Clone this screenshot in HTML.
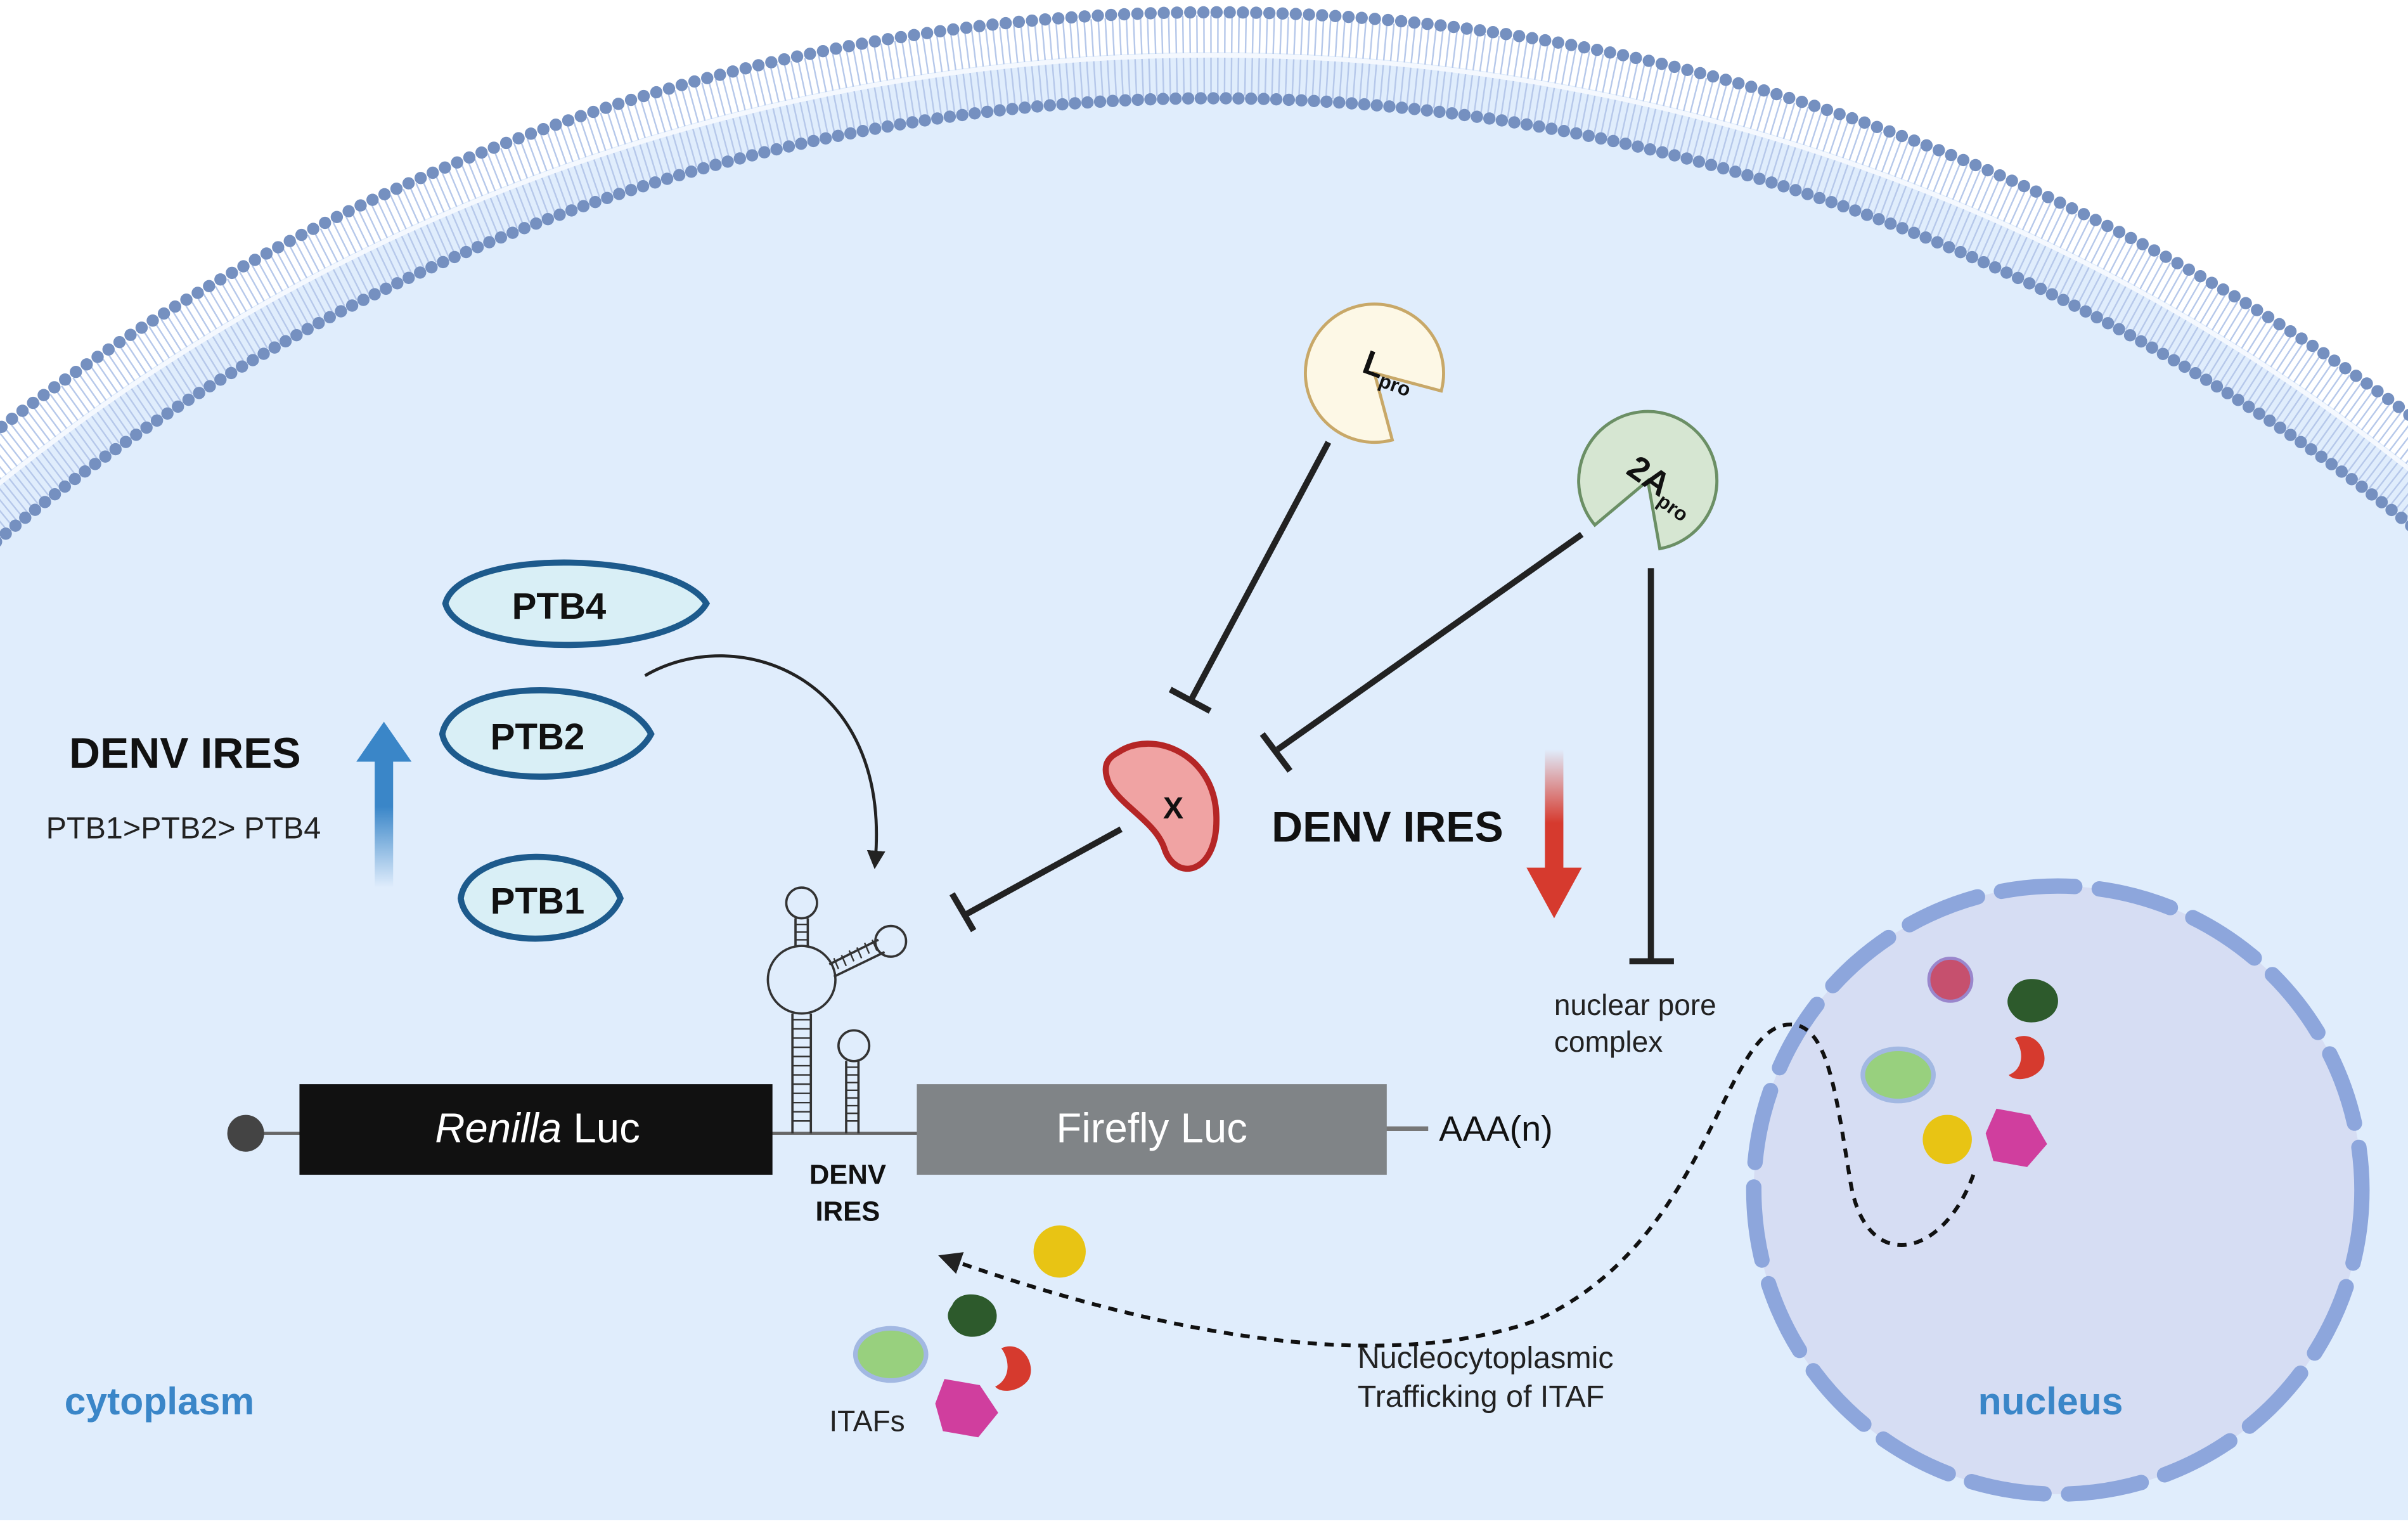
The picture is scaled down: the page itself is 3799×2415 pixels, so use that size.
<!DOCTYPE html>
<html><head><meta charset="utf-8"><style>
html,body{margin:0;padding:0;background:#fff;width:3799px;height:2415px;overflow:hidden;}
svg{display:block;}
text{font-family:"Liberation Sans",sans-serif;}
</style></head><body>
<svg width="3799" height="2415" viewBox="0 0 1568 997" preserveAspectRatio="none" xmlns="http://www.w3.org/2000/svg">
<defs>
<linearGradient id="bu" x1="0" y1="1" x2="0" y2="0"><stop offset="0" stop-color="#3a86c8" stop-opacity="0"/><stop offset="0.6" stop-color="#3a86c8"/></linearGradient>
<linearGradient id="rd" x1="0" y1="0" x2="0" y2="1"><stop offset="0" stop-color="#d63a2e" stop-opacity="0"/><stop offset="0.6" stop-color="#d63a2e"/></linearGradient>
<marker id="ah" viewBox="0 0 10 10" refX="5" refY="5" markerWidth="6" markerHeight="6" orient="auto"><path d="M0,0 L10,5 L0,10 z" fill="#222"/></marker>
</defs>
<rect width="1568" height="997" fill="#fff"/>
<rect x="5" y="340" width="1558" height="650" fill="#e0edfc"/>
<circle cx="790" cy="1296" r="1262" fill="#e0edfc"/>
<circle cx="790" cy="1296" r="1260" fill="none" stroke="#b6c8ea" stroke-width="52" stroke-dasharray="1 3.5"/>
<circle cx="790" cy="1296" r="1260" fill="none" stroke="#f4f8fe" stroke-width="3"/>
<circle cx="790" cy="1296" r="1288" fill="none" stroke="#7590c0" stroke-width="8" stroke-linecap="round" stroke-dasharray="0 8.6"/>
<circle cx="790" cy="1296" r="1232" fill="none" stroke="#7590c0" stroke-width="8" stroke-linecap="round" stroke-dasharray="0 8.2"/>
<rect x="0" y="990" width="1568" height="7" fill="#fff"/>

<path d="M290,393 C300,355 440,360 460,393 C440,428 300,430 290,393 z" fill="#d9eff6" stroke="#1d5a8c" stroke-width="4"/>
<text x="364" y="403" font-size="24" font-weight="bold" text-anchor="middle" fill="#111">PTB4</text>
<path d="M288,478 C295,440 405,440 424,478 C405,515 295,515 288,478 z" fill="#d9eff6" stroke="#1d5a8c" stroke-width="4"/>
<text x="350" y="488" font-size="24" font-weight="bold" text-anchor="middle" fill="#111">PTB2</text>
<path d="M300,585 C305,550 390,548 404,585 C390,620 305,620 300,585 z" fill="#d9eff6" stroke="#1d5a8c" stroke-width="4"/>
<text x="350" y="595" font-size="24" font-weight="bold" text-anchor="middle" fill="#111">PTB1</text>

<text x="45" y="500" font-size="28" font-weight="bold" fill="#111">DENV IRES</text>
<text x="30" y="546" font-size="20" fill="#222">PTB1&gt;PTB2&gt; PTB4</text>
<rect x="244" y="490" width="12" height="88" fill="url(#bu)"/>
<path d="M232,496 L250,470 L268,496 z" fill="#3a86c8"/>

<path d="M420,440 C480,405 580,440 570,560" fill="none" stroke="#222" stroke-width="2" marker-end="url(#ah)"/>

<path d="M895,243 L938.5,254.6 A45,45 0 1 0 906.6,286.5 z" fill="#fdf8e6" stroke="#c8a868" stroke-width="2"/>
<text x="886" y="242" font-size="22" font-weight="bold" fill="#111" transform="rotate(20 886 242)">L<tspan font-size="13" dy="5">pro</tspan></text>
<path d="M1073,313 L1080.8,357.3 A45,45 0 1 0 1038.5,341.9 z" fill="#d6e6d2" stroke="#6b8f65" stroke-width="2"/>
<text x="1058" y="308" font-size="22" font-weight="bold" fill="#111" transform="rotate(35 1058 308)">2A<tspan font-size="13" dy="5">pro</tspan></text>

<g stroke="#222" stroke-width="4" fill="none">
<line x1="865" y1="288" x2="776" y2="455"/><line x1="762" y1="449" x2="788" y2="463"/>
<line x1="1030" y1="348" x2="832" y2="488"/><line x1="822" y1="478" x2="840" y2="502"/>
<line x1="1075" y1="370" x2="1075" y2="625"/><line x1="1061" y1="626" x2="1090" y2="626"/>
<line x1="730" y1="540" x2="628" y2="596"/><line x1="620" y1="582" x2="634" y2="606"/>
</g>
<path d="M728,490 C750,475 790,490 792,530 C794,570 765,575 758,552 C752,535 730,525 722,510 C718,500 720,494 728,490 z" fill="#f0a3a3" stroke="#b52626" stroke-width="4"/>
<text x="764" y="533" font-size="20" font-weight="bold" text-anchor="middle" fill="#111">X</text>

<text x="828" y="548" font-size="28" font-weight="bold" fill="#111">DENV IRES</text>
<rect x="1006" y="488" width="12" height="80" fill="url(#rd)"/>
<path d="M994,565 L1012,598 L1030,565 z" fill="#d63a2e"/>

<text x="1012" y="661" font-size="19" fill="#222">nuclear pore</text>
<text x="1012" y="685" font-size="19" fill="#222">complex</text>

<circle cx="1340" cy="775" r="198" fill="#d6ddf3" stroke="#8da6dc" stroke-width="10" stroke-linecap="round" stroke-dasharray="48 16"/>
<circle cx="1270" cy="638" r="14" fill="#c6506e" stroke="#9a86cc" stroke-width="2"/>
<path d="M1310,645 C1315,633 1338,636 1340,650 C1342,665 1320,670 1312,662 C1306,656 1306,650 1310,645 z" fill="#2d5a2c"/>
<path d="M1312,676 C1325,670 1335,685 1330,695 C1325,703 1312,705 1308,700 C1318,696 1318,684 1312,676 z" fill="#d63a2e"/>
<ellipse cx="1236" cy="700" rx="23" ry="17" fill="#98d07e" stroke="#a2b8e2" stroke-width="3"/>
<circle cx="1268" cy="742" r="16" fill="#e8c414"/>
<path d="M1300,722 L1322,726 L1333,745 L1320,760 L1298,756 L1293,738 z" fill="#d03e9e"/>

<line x1="160" y1="738" x2="600" y2="738" stroke="#666" stroke-width="2"/>
<line x1="900" y1="735" x2="930" y2="735" stroke="#777" stroke-width="3"/>
<circle cx="160" cy="738" r="12" fill="#444"/>
<rect x="195" y="706" width="308" height="59" fill="#111"/>
<text x="350" y="744" font-size="27" fill="#fff" text-anchor="middle"><tspan font-style="italic">Renilla</tspan> Luc</text>
<rect x="597" y="706" width="306" height="59" fill="#808487"/>
<text x="750" y="744" font-size="27" fill="#fff" text-anchor="middle">Firefly Luc</text>
<text x="937" y="743" font-size="23" fill="#111">AAA(n)</text>

<g stroke="#333" stroke-width="1.5" fill="none">
<line x1="516" y1="738" x2="516" y2="660"/><line x1="528" y1="738" x2="528" y2="660"/>
<circle cx="522" cy="638" r="22"/>
<line x1="518" y1="616" x2="518" y2="598"/><line x1="526" y1="616" x2="526" y2="598"/>
<circle cx="522" cy="588" r="10"/>
<line x1="540" y1="628" x2="572" y2="612"/><line x1="543" y1="636" x2="576" y2="620"/>
<circle cx="580" cy="613" r="10"/>
<line x1="551" y1="738" x2="551" y2="691"/><line x1="559" y1="738" x2="559" y2="691"/>
<circle cx="556" cy="681" r="10"/>
</g>
<g stroke="#333" stroke-width="1">
<path d="M516,664h12M516,670h12M516,676h12M516,682h12M516,688h12M516,694h12M516,700h12M516,706h12M516,712h12M516,718h12M516,724h12M516,730h12M518,602h8M518,607h8M518,612h8M551,695h8M551,700h8M551,705h8M551,710h8M551,715h8M551,720h8M551,725h8M551,730h8M546,631l-3,-7M551,629l-3,-7M556,626l-3,-7M561,624l-3,-7M566,621l-3,-7M571,619l-3,-7"/>
</g>
<text x="552" y="771" font-size="18" font-weight="bold" text-anchor="middle" fill="#111">DENV</text>
<text x="552" y="795" font-size="18" font-weight="bold" text-anchor="middle" fill="#111">IRES</text>

<path d="M1285,765 C1265,820 1215,830 1205,770 C1195,710 1190,660 1160,668 C1120,680 1110,810 1000,860 C900,895 760,870 618,820" fill="none" stroke="#111" stroke-width="2.5" stroke-dasharray="6 5" marker-end="url(#ah)"/>

<circle cx="690" cy="815" r="17" fill="#e8c414"/>
<ellipse cx="580" cy="882" rx="23" ry="17" fill="#98d07e" stroke="#a2b8e2" stroke-width="3"/>
<path d="M620,850 C625,838 648,842 649,856 C650,870 630,875 622,866 C616,860 616,855 620,850 z" fill="#2d5a2c"/>
<path d="M652,878 C665,872 675,888 670,898 C665,906 652,908 648,903 C658,898 658,886 652,878 z" fill="#d63a2e"/>
<path d="M615,898 L638,902 L650,920 L637,936 L614,932 L609,914 z" fill="#d03e9e"/>
<text x="540" y="932" font-size="19" fill="#222">ITAFs</text>
<text x="884" y="891" font-size="20" fill="#222">Nucleocytoplasmic</text>
<text x="884" y="916" font-size="20" fill="#222">Trafficking of ITAF</text>

<text x="42" y="921" font-size="25" font-weight="bold" fill="#3a86c8">cytoplasm</text>
<text x="1288" y="921" font-size="25" font-weight="bold" fill="#3a86c8">nucleus</text>
</svg>
</body></html>
